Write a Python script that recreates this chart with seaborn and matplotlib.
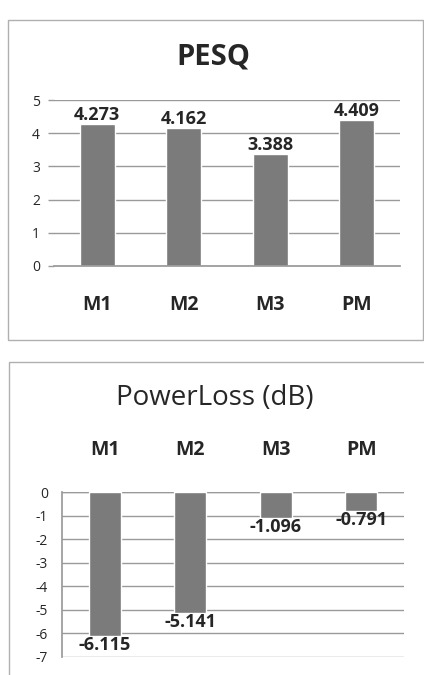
import matplotlib
matplotlib.use("Agg")
import matplotlib.pyplot as plt
import seaborn as sns
import pandas as pd
from matplotlib.patches import Rectangle

# Data
methods = ["M1", "M2", "M3", "PM"]
pesq = [4.273, 4.162, 3.388, 4.409]
power_loss = [-6.115, -5.141, -1.096, -0.791]
pesq_ticks = [0, 1, 2, 3, 4, 5]
loss_ticks = [0, -1, -2, -3, -4, -5, -6, -7]

BAR = "#7b7b7b"
GRID = "#9a9a9a"
FONT = ["Open Sans", "DejaVu Sans"]

sns.set_theme(style="white")
plt.rcParams["font.family"] = FONT
plt.rcParams["axes.unicode_minus"] = False

W, H = 424, 675
fig = plt.figure(figsize=(W / 100, H / 100), dpi=100)

def fx(px):
    return px / W

def fy(py):
    return 1 - py / H

# chart frames
fig.patches.append(Rectangle((fx(8), fy(340)), fx(415), 320 / H, transform=fig.transFigure,
                             fill=False, edgecolor="#b0b0b0", linewidth=1.0))
fig.patches.append(Rectangle((fx(9), fy(700)), fx(440), 338 / H, transform=fig.transFigure,
                             fill=False, edgecolor="#b0b0b0", linewidth=1.0))

df1 = pd.DataFrame({"method": methods, "value": pesq})
df2 = pd.DataFrame({"method": methods, "value": power_loss})

# ---- PESQ ----
ax1 = fig.add_axes([fx(54), fy(266), fx(400) - fx(54), (266 - 100) / H])
sns.barplot(data=df1, x="method", y="value", color=BAR, saturation=1, width=0.4, ax=ax1)
ax1.set_ylim(0, 5)
ax1.set_yticks(pesq_ticks)
ax1.yaxis.grid(True, color=GRID, linewidth=1)
ax1.set_axisbelow(True)
for s in ["top", "right", "left"]:
    ax1.spines[s].set_visible(False)
ax1.spines["bottom"].set_color(GRID)
ax1.set_xlabel("")
ax1.set_ylabel("")
ax1.set_xticks([-0.5, 0.5, 1.5, 2.5, 3.5], minor=True)
ax1.tick_params(axis="x", which="major", length=0, pad=21, labelsize=14)
ax1.tick_params(axis="x", which="minor", length=7, color=GRID, width=1, direction="out")
ax1.tick_params(axis="y", length=4, color=GRID, width=1, labelsize=10, pad=6, left=True)
for t in ax1.get_xticklabels():
    t.set_fontweight("bold")
ax1.bar_label(ax1.containers[0], fmt="%.3f", padding=0, fontsize=13, fontweight="bold")
fig.text(fx(213), fy(57), "PESQ", ha="center", va="center", fontsize=21, fontweight="bold")

# ---- PowerLoss ----
ax2 = fig.add_axes([fx(62), fy(657), fx(404) - fx(62), (657 - 492) / H])
sns.barplot(data=df2, x="method", y="value", color=BAR, saturation=1, width=0.38, ax=ax2)
ax2.set_ylim(-7, 0)
ax2.set_yticks(loss_ticks)
ax2.yaxis.grid(True, color=GRID, linewidth=1)
ax2.set_axisbelow(True)
for s in ["top", "right", "bottom"]:
    ax2.spines[s].set_visible(False)
ax2.spines["left"].set_color(GRID)
ax2.axhline(0, color=GRID, linewidth=1, zorder=0)
ax2.set_xlabel("")
ax2.set_ylabel("")
ax2.xaxis.tick_top()
ax2.tick_params(axis="x", length=0, pad=23, labelsize=14)
ax2.tick_params(axis="y", length=0, labelsize=10, pad=10)
for t in ax2.get_xticklabels():
    t.set_fontweight("bold")
ax2.bar_label(ax2.containers[0], fmt="%.3f", padding=0, fontsize=13, fontweight="bold")
fig.text(fx(215), fy(398), "PowerLoss (dB)", ha="center", va="center", fontsize=20)

fig.savefig("out.png", dpi=100)
